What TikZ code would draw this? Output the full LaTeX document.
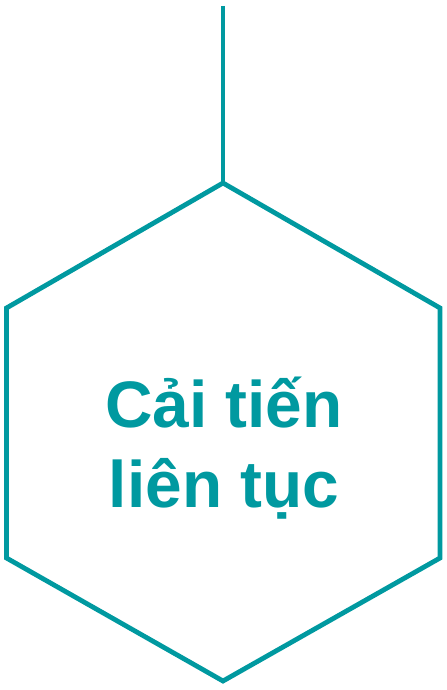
\documentclass[tikz,border=0pt]{standalone}
\usepackage{fontspec}
\setmainfont{Liberation Sans}
\definecolor{teal1}{RGB}{0,153,160}
\begin{document}
\begin{tikzpicture}[x=1bp,y=-1bp,
  edge/.style={draw=teal1,line width=4.8bp,line join=miter},
  label/.style={text=teal1,font=\bfseries\fontsize{66}{80}\selectfont,inner sep=0pt,anchor=base}]
\useasboundingbox (0,0) rectangle (447,690);
\coordinate (top) at (223,6);
\coordinate (v1) at (223,183);
\coordinate (v2) at (440,308);
\coordinate (v3) at (440,558);
\coordinate (v4) at (223,681);
\coordinate (v5) at (6.5,558);
\coordinate (v6) at (6.5,308);
\draw[edge] (top) -- (v1);
\draw[edge] (v1) -- (v2) -- (v3) -- (v4) -- (v5) -- (v6) -- cycle;
\node[label] (t1) at (224,427) {Cải tiến};
\node[label] (t2) at (224,507) {liên tục};
\end{tikzpicture}
\end{document}
